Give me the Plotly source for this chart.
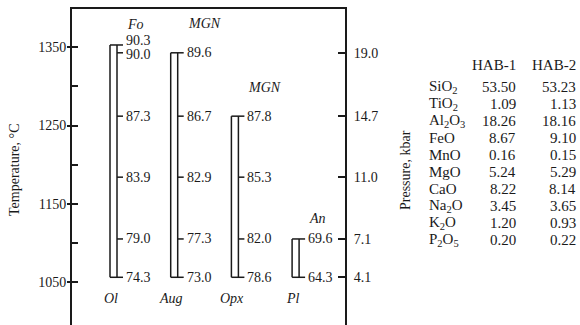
import plotly.graph_objects as go

# ---------------- data ----------------
minerals = ["Ol", "Aug", "Opx", "Pl"]
component = ["Fo", "MGN", "MGN", "An"]
# temperature levels (deg C) at which compositions are reported
levels_T = [1353, 1343, 1262, 1184, 1105, 1056]
# compositions per mineral, starting at level index start_idx
start_idx = [0, 1, 2, 4]
ol_vals = [90.3, 90.0, 87.3, 83.9, 79.0, 74.3]
aug_vals = [89.6, 86.7, 82.9, 77.3, 73.0]
opx_vals = [87.8, 85.3, 82.0, 78.6]
pl_vals = [69.6, 64.3]
mineral_vals = [ol_vals, aug_vals, opx_vals, pl_vals]

pressure_kbar = ["19.0", "14.7", "11.0", "7.1", "4.1"]
pressure_T = [1343, 1262, 1184, 1105, 1056]

temp_ticks = [1050, 1150, 1250, 1350]
temp_minor = [1050, 1100, 1150, 1200, 1250, 1300, 1350]

oxides = ["SiO<sub>2</sub>", "TiO<sub>2</sub>", "Al<sub>2</sub>O<sub>3</sub>", "FeO", "MnO",
          "MgO", "CaO", "Na<sub>2</sub>O", "K<sub>2</sub>O", "P<sub>2</sub>O<sub>5</sub>"]
hab1 = ["53.50", "1.09", "18.26", "8.67", "0.16", "5.24", "8.22", "3.45", "1.20", "0.20"]
hab2 = ["53.23", "1.13", "18.16", "9.10", "0.15", "5.29", "8.14", "3.65", "0.93", "0.22"]
table_headers = ["HAB-1", "HAB-2"]

# ---------------- layout constants ----------------
W, H = 580, 325
L, R, T, B = 72, 235, 9, 0
PW = W - L - R
PH = H - T - B
PX0 = 110          # pixel x of first mineral's left line
SP = 60.7          # pixel spacing between minerals
xr = [(L - PX0) / SP, (W - R - PX0) / SP]
yr = [995, 1399]
bw = 7 / SP        # gap between the two lines of a bar
tk = 6 / SP        # tick length
FONT = "Liberation Serif"
FS = 14
FS_TAB = 15
INK = "#1a1a1a"

def px2paper_x(px):
    return (px - L) / PW

def px2paper_y(py):
    return 1 - (py - T) / PH

fig = go.Figure()
annots = []

for i, (m, comp, vals, s) in enumerate(zip(minerals, component, mineral_vals, start_idx)):
    temps = levels_T[s:s + len(vals)]
    top, bot = temps[0], temps[-1]
    xl, xrr = i, i + bw
    xs, ys = [], []
    # left and right vertical lines
    xs += [xl, xl, None, xrr, xrr, None]
    ys += [top, bot, None, top, bot, None]
    # top and bottom horizontals
    xs += [xl, xrr + tk, None, xl, xrr + tk, None]
    ys += [top, top, None, bot, bot, None]
    # ticks
    for t in temps[1:-1]:
        xs += [xrr, xrr + tk, None]
        ys += [t, t, None]
    fig.add_trace(go.Scatter(x=xs, y=ys, mode="lines", line=dict(color=INK, width=1.5),
                             hoverinfo="skip", showlegend=False))
    for k, (v, t) in enumerate(zip(vals, temps)):
        ysh = 0
        if i == 0 and k == 0:
            ysh = 4
        elif i == 0 and k == 1:
            ysh = -2
        annots.append(dict(x=xrr + tk, y=t, xref="x", yref="y", text=f"{v:.1f}",
                           showarrow=False, xanchor="left", yanchor="middle",
                           xshift=1, yshift=ysh, font=dict(family=FONT, size=FS, color=INK)))
    # component label above
    above = 20 if comp in ("Fo", "An") else 29
    annots.append(dict(x=i + 15 / SP, y=top, xref="x", yref="y", text=f"<i>{comp}</i>",
                       showarrow=False, xanchor="left", yanchor="middle", yshift=above,
                       font=dict(family=FONT, size=FS, color=INK)))
    # mineral name below
    annots.append(dict(x=i + 0.01, y=bot, xref="x", yref="y", text=f"<i>{m}</i>",
                       showarrow=False, xanchor="center", yanchor="middle", yshift=-21,
                       font=dict(family=FONT, size=FS, color=INK)))

# invisible traces for the overlay axes
fig.add_trace(go.Scatter(x=[xr[0]], y=[yr[0]], yaxis="y2", mode="markers",
                         marker=dict(opacity=0), hoverinfo="skip", showlegend=False))
fig.add_trace(go.Scatter(x=[xr[0]], y=[yr[0]], yaxis="y3", mode="markers",
                         marker=dict(opacity=0), hoverinfo="skip", showlegend=False))

# axis titles
annots.append(dict(x=px2paper_x(14), y=px2paper_y(170), xref="paper", yref="paper",
                   text="Temperature, °C", textangle=-90, showarrow=False,
                   xanchor="center", yanchor="middle",
                   font=dict(family=FONT, size=FS, color=INK)))
annots.append(dict(x=px2paper_x(405), y=px2paper_y(170), xref="paper", yref="paper",
                   text="Pressure, kbar", textangle=-90, showarrow=False,
                   xanchor="center", yanchor="middle",
                   font=dict(family=FONT, size=FS, color=INK)))

# composition table
col_right = [518, 578]
for j, hdr in enumerate(table_headers):
    annots.append(dict(x=px2paper_x(col_right[j]), y=px2paper_y(65), xref="paper", yref="paper",
                       text=hdr, showarrow=False, xanchor="right", yanchor="middle",
                       font=dict(family=FONT, size=FS_TAB, color=INK)))
for r, (ox, a, b) in enumerate(zip(oxides, hab1, hab2)):
    py = 87 + r * 17
    annots.append(dict(x=px2paper_x(427), y=px2paper_y(py), xref="paper", yref="paper",
                       text=ox, showarrow=False, xanchor="left", yanchor="middle",
                       font=dict(family=FONT, size=FS_TAB, color=INK)))
    for j, v in enumerate((a, b)):
        annots.append(dict(x=px2paper_x(col_right[j]), y=px2paper_y(py), xref="paper", yref="paper",
                           text=v, showarrow=False, xanchor="right", yanchor="middle",
                           font=dict(family=FONT, size=FS_TAB, color=INK)))

axis_font = dict(family=FONT, size=FS, color=INK)
fig.update_layout(
    width=W, height=H, margin=dict(l=L, r=R, t=T, b=B, pad=0),
    paper_bgcolor="white", plot_bgcolor="white",
    xaxis=dict(range=xr, side="top", showline=True, linewidth=2, linecolor=INK,
               showticklabels=False, ticks="", showgrid=False, zeroline=False),
    yaxis=dict(range=yr, showline=True, linewidth=2, linecolor=INK, ticks="outside",
               ticklen=3, tickwidth=1.5, tickcolor=INK, tickvals=temp_ticks,
               ticklabelstandoff=-2,
               tickfont=axis_font, showgrid=False, zeroline=False),
    yaxis3=dict(range=yr, overlaying="y", side="left", anchor="x", ticks="inside",
                ticklen=6, tickwidth=1.5, tickcolor=INK, tickvals=temp_minor,
                showticklabels=False, showline=False, showgrid=False, zeroline=False),
    yaxis2=dict(range=yr, overlaying="y", side="right", anchor="x", showline=True,
                linewidth=2, linecolor=INK, ticks="inside", ticklen=7, tickwidth=1.5,
                tickcolor=INK, tickvals=pressure_T, ticktext=pressure_kbar,
                ticklabelstandoff=4,
                tickfont=axis_font, showgrid=False, zeroline=False),
    annotations=annots,
    showlegend=False,
)

fig.write_html("out.html")
